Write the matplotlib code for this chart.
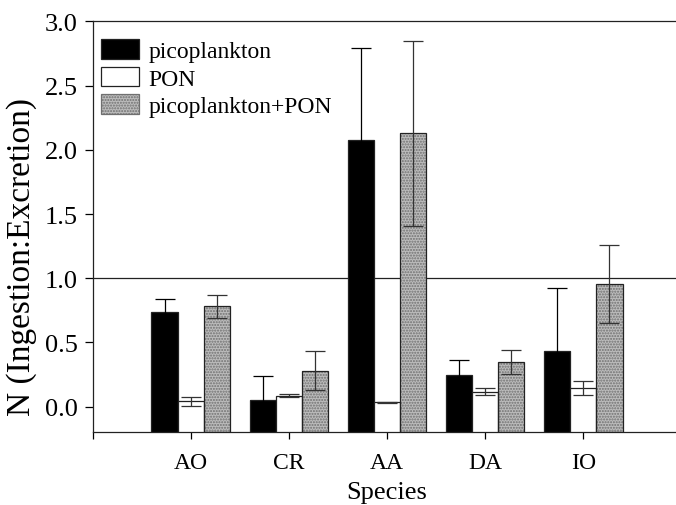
import matplotlib
matplotlib.use('Agg')
import matplotlib.pyplot as plt
import matplotlib.patches as mpatches
import numpy as np

plt.rcParams['font.family'] = ['Liberation Serif', 'DejaVu Serif']
plt.rcParams['font.size'] = 17

species = ['AO', 'CR', 'AA', 'DA', 'IO']
pico = [0.74, 0.05, 2.08, 0.25, 0.43]
pico_err = [0.10, 0.19, 0.71, 0.11, 0.49]
pon = [0.04, 0.086, 0.034, 0.117, 0.143]
pon_err = [0.035, 0.01, 0.005, 0.025, 0.055]
both = [0.78, 0.28, 2.13, 0.346, 0.955]
both_err = [0.09, 0.15, 0.72, 0.095, 0.30]

ymin, ymax = -0.2, 3.0
width = 0.267
grey = '#bcbcbc'
dots = '#707070'

fig = plt.figure(figsize=(6.76, 5.06), dpi=100)
ax = fig.add_axes([0.137, 0.1437, 0.871, 0.812])

x = np.arange(1, len(species) + 1)
series = [(pico, pico_err, 'black', None, 'black'),
          (pon, pon_err, 'white', None, '#333333'),
          (both, both_err, grey, '......', '#333333')]
for k, (vals, errs, fc, hatch, ec) in enumerate(series):
    xs = x + (k - 1) * width
    h = np.array(vals) - ymin
    if hatch:
        ax.bar(xs, h, width, bottom=ymin, color=fc, hatch=hatch,
               edgecolor=dots, linewidth=0, zorder=2)
        ax.bar(xs, h, width, bottom=ymin, facecolor='none',
               edgecolor='#222222', linewidth=0.9, zorder=3)
    else:
        ax.bar(xs, h, width, bottom=ymin, color=fc,
               edgecolor='#222222', linewidth=0.9, zorder=3)
    ax.errorbar(xs, vals, yerr=errs, fmt='none', ecolor=ec,
                elinewidth=0.9, capsize=7, capthick=0.9, zorder=4)

leg_h = [mpatches.Patch(facecolor='black', edgecolor='#222222', lw=0.9),
         mpatches.Patch(facecolor='white', edgecolor='#222222', lw=0.9),
         mpatches.Patch(facecolor=grey, edgecolor=dots, hatch='......', lw=0.9)]
ax.legend(leg_h, ['picoplankton', 'PON', 'picoplankton+PON'],
          loc='upper left', bbox_to_anchor=(0.015, 0.956), frameon=False,
          handlelength=1.57, handleheight=0.89, labelspacing=0.19,
          handletextpad=0.42, borderpad=0, borderaxespad=0, fontsize=17)

ax.axhline(1.0, color='#222222', lw=0.9, zorder=1)

ax.set_xlim(0, 6)
ax.set_ylim(ymin, ymax)
yt = np.arange(0, 3.01, 0.5)
ax.set_yticks(yt)
ax.set_yticklabels(['%.1f' % v for v in yt], fontsize=19)
ax.set_xticks([0] + list(x))
ax.set_xticklabels([''] + species, fontsize=17)
ax.tick_params(axis='y', direction='out', length=6, width=0.9, pad=4.5)
ax.tick_params(axis='x', direction='out', length=5, width=0.9, pad=9)
ax.spines['right'].set_visible(False)
for s in ['left', 'bottom', 'top']:
    ax.spines[s].set_linewidth(0.9)
    ax.spines[s].set_color('#222222')

ax.set_xlabel('Species', fontsize=19)
ax.xaxis.set_label_coords(0.5, -0.119)
ax.set_ylabel('N (Ingestion:Excretion)', fontsize=24)
ax.yaxis.set_label_coords(-0.095, 0.429)

fig.savefig('out.png', dpi=100)
